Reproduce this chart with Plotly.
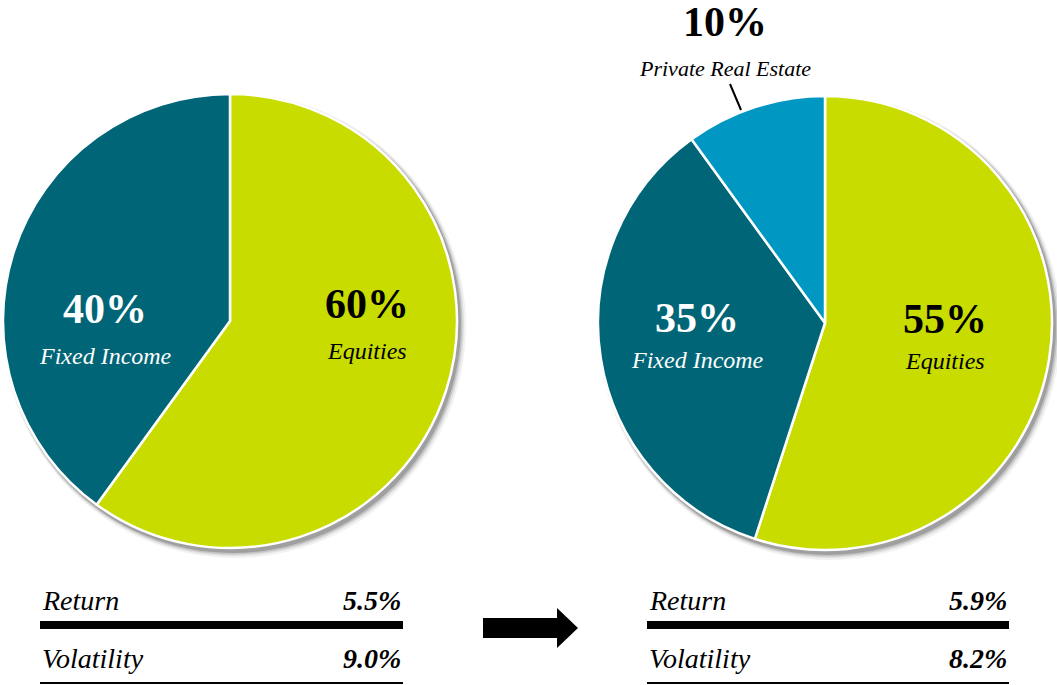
import plotly.graph_objects as go

W, H = 1057, 685

# ---- data ----
left_labels = ["Equities", "Fixed Income"]
left_values = [60, 40]
right_labels = ["Equities", "Fixed Income", "Private Real Estate"]
right_values = [55, 35, 10]
metric_names = ["Return", "Volatility"]
left_metrics = ["5.5%", "9.0%"]
right_metrics = ["5.9%", "8.2%"]

colors = {"Equities": "#C9DC00", "Fixed Income": "#006677", "Private Real Estate": "#0098C2"}
txtcolor = {"Equities": "black", "Fixed Income": "white", "Private Real Estate": "black"}

FONT = "Liberation Serif"

def X(px):
    return px / W

def Y(py):
    return 1 - py / H

fig = go.Figure()

# pie geometry (px)
left_box = (3, 457, 94, 548)
right_box = (598, 1052, 96, 550)

for labels, values, box in [(left_labels, left_values, left_box), (right_labels, right_values, right_box)]:
    x0, x1, y0, y1 = box
    fig.add_trace(go.Pie(
        labels=labels, values=values, sort=False, direction="clockwise", rotation=0,
        marker=dict(colors=[colors[l] for l in labels], line=dict(color="white", width=2.5)),
        textinfo="none", hoverinfo="label+percent", showlegend=False,
        domain=dict(x=[X(x0), X(x1)], y=[Y(y1), Y(y0)]),
    ))

shapes = []
# soft shadows behind pies
for box in [left_box, right_box]:
    x0, x1, y0, y1 = box
    for i, (d, op) in enumerate([(7, 0.05), (5, 0.08), (3.5, 0.12), (2, 0.18)]):
        shapes.append(dict(type="circle", xref="paper", yref="paper", layer="below",
                           x0=X(x0 + 2 - d * 0.3), x1=X(x1 + 2 + d), y0=Y(y1 + 3 + d), y1=Y(y0 + 2 - d * 0.3),
                           fillcolor=f"rgba(0,0,0,{op})", line=dict(width=0)))

annotations = []

def pct_label(x, y, pct, name, color, psize=42, nsize=24, gap=47):
    annotations.append(dict(x=X(x), y=Y(y), xref="paper", yref="paper", showarrow=False,
                            text=f"{pct}%", xanchor="center", yanchor="middle",
                            font=dict(family=FONT, size=psize, color=color, weight="bold")))
    annotations.append(dict(x=X(x), y=Y(y + gap), xref="paper", yref="paper", showarrow=False,
                            text=name, xanchor="center", yanchor="middle",
                            font=dict(family=FONT, size=nsize, color=color, style="italic")))

# left pie labels
pct_label(367, 304, left_values[0], left_labels[0], txtcolor["Equities"])
pct_label(105, 309, left_values[1], left_labels[1], txtcolor["Fixed Income"])
# right pie labels
pct_label(945, 319, right_values[0], right_labels[0], txtcolor["Equities"], gap=42)
pct_label(697, 318, right_values[1], right_labels[1], txtcolor["Fixed Income"], gap=42)
pct_label(725, 22, right_values[2], right_labels[2], "black", nsize=22, gap=46)

# leader line
shapes.append(dict(type="line", xref="paper", yref="paper", x0=X(730), y0=Y(84), x1=X(741), y1=Y(110),
                   line=dict(color="black", width=2)))

# metric tables
for (lx, rx), vals in [((40, 403), left_metrics), ((647, 1009), right_metrics)]:
    for i, (nm, v) in enumerate(zip(metric_names, vals)):
        yy = 600 + i * 58
        annotations.append(dict(x=X(lx), y=Y(yy), xref="paper", yref="paper", showarrow=False,
                                text=nm, xanchor="left", yanchor="middle",
                                font=dict(family=FONT, size=28, color="black", style="italic")))
        annotations.append(dict(x=X(rx), y=Y(yy), xref="paper", yref="paper", showarrow=False,
                                text=v, xanchor="right", yanchor="middle",
                                font=dict(family=FONT, size=28, color="black", style="italic", weight="bold")))
    shapes.append(dict(type="line", xref="paper", yref="paper", x0=X(lx), x1=X(rx), y0=Y(625), y1=Y(625),
                       line=dict(color="black", width=8)))
    shapes.append(dict(type="line", xref="paper", yref="paper", x0=X(lx), x1=X(rx), y0=Y(683), y1=Y(683),
                       line=dict(color="black", width=2)))

# arrow
pts = [(483, 618), (557, 618), (557, 608), (578, 628), (557, 648), (557, 638), (483, 638)]
path = "M " + " L ".join(f"{X(px)},{Y(py)}" for px, py in pts) + " Z"
shapes.append(dict(type="path", xref="paper", yref="paper", path=path, fillcolor="black", line=dict(width=0)))

fig.update_layout(width=W, height=H, margin=dict(l=0, r=0, t=0, b=0),
                  paper_bgcolor="white", plot_bgcolor="white",
                  shapes=shapes, annotations=annotations)

fig.write_html("out.html", config={"displayModeBar": False},
               post_script="document.body.style.margin='0';document.body.style.overflow='hidden';")
